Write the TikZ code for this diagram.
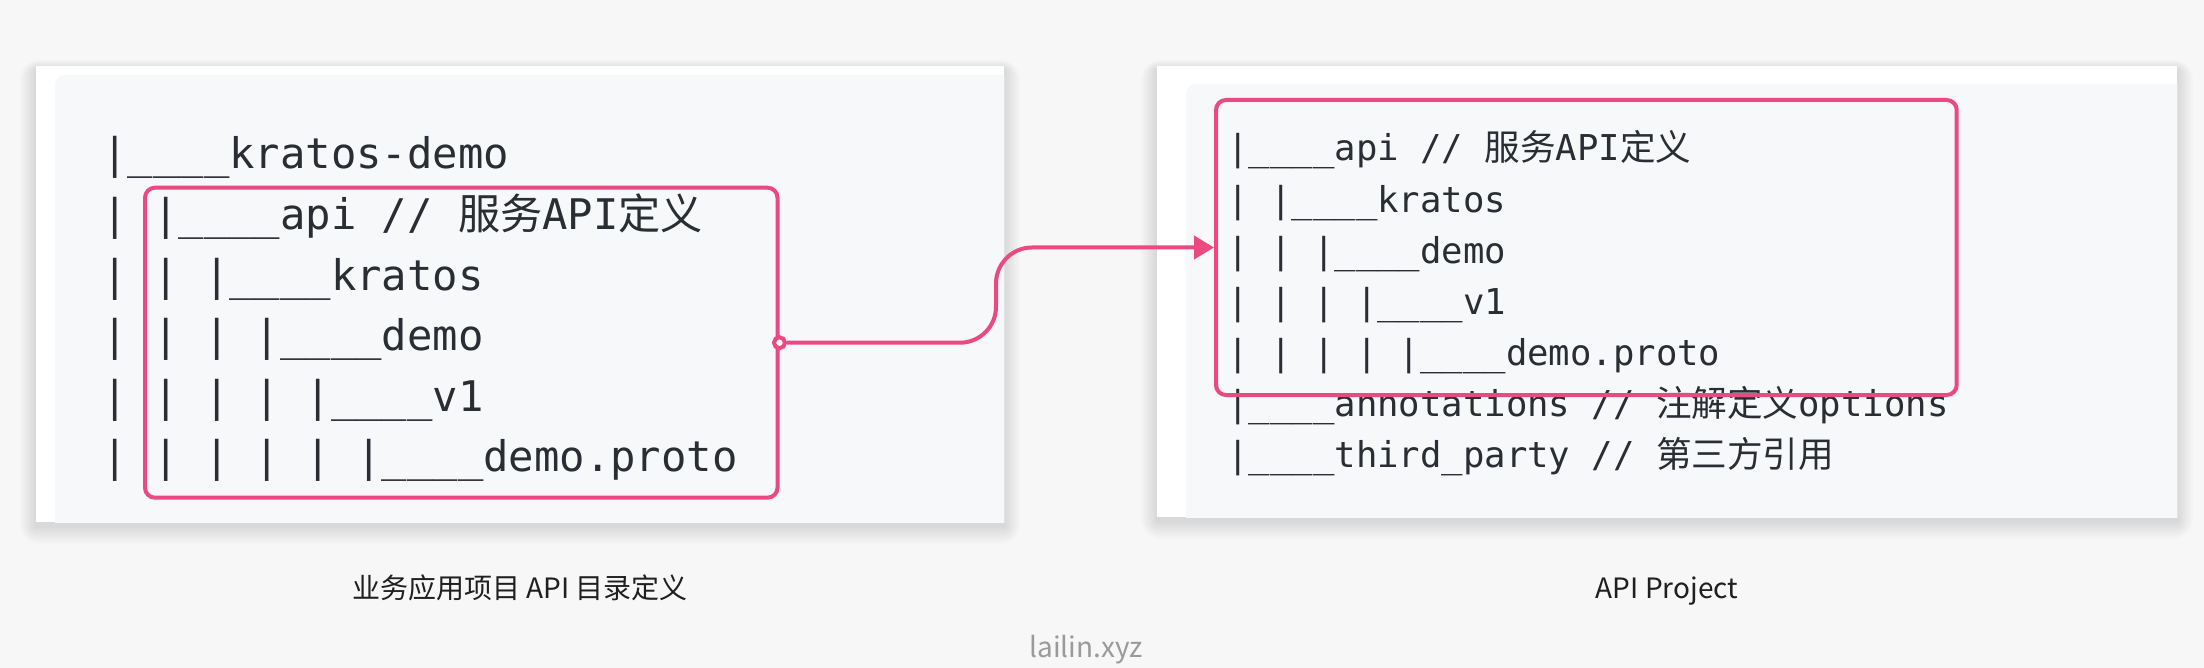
\documentclass[tikz,border=0pt]{standalone}
\usepackage{fontspec}
\setmainfont{Noto Sans CJK SC}
\setmonofont{DejaVu Sans Mono}
\newfontfamily\cjk{Noto Sans CJK SC}
\usetikzlibrary{positioning,fit,arrows.meta}

\definecolor{pagebg}{HTML}{F7F7F7}
\definecolor{codebg}{HTML}{F6F8FA}
\definecolor{codefg}{HTML}{2A2E33}
\definecolor{pinkline}{HTML}{EA4A80}
\definecolor{sitegray}{HTML}{9A9A9A}

\tikzstyle{card} = [draw=none, fill=white, inner sep=0]
\tikzstyle{codebox} = [draw=none, fill=codebg, rounded corners=5pt, inner sep=0]
\tikzstyle{hilite} = [draw=pinkline, line width=2pt, rounded corners=5pt, inner sep=0]
\tikzstyle{bigcode} = [inner sep=0, anchor=base west, text=codefg, font=\ttfamily\fontsize{21.1pt}{25pt}\selectfont]
\tikzstyle{smallcode} = [inner sep=0, anchor=base west, text=codefg, font=\ttfamily\fontsize{17.8pt}{21pt}\selectfont]
\tikzstyle{caption} = [inner sep=0, anchor=base, text=black!88, font=\fontsize{14pt}{16pt}\selectfont]
\tikzstyle{portdot} = [circle, draw=pinkline, fill=white, line width=2pt, minimum size=5.5pt, inner sep=0]
\tikzstyle{link} = [draw=pinkline, line width=2pt, rounded corners=18pt, -{Triangle[length=10pt, width=11.5pt]}]

% soft shadow under a card, from its corners
\newcommand{\softshadow}[2]{%
    \foreach \i in {1,...,10}
        \fill [black, opacity=0.013, rounded corners=\i pt]
            ([shift={(-\i*0.8pt,-\i*0.9pt-2pt)}]#1) rectangle ([shift={(\i*0.8pt,\i*0.5pt-2pt)}]#2);
}

\begin{document}
\begin{tikzpicture}[x=0.5pt, y=0.5pt]
    \fill [pagebg] (0,0) rectangle (2204,-668);

    % left card
    \coordinate (lnw) at (36,-66);
    \coordinate (lse) at (1004,-522);
    \softshadow{lnw |- lse}{lse |- lnw}
    \node [card, fit={(lnw) (lse)}] (lcard) {};
    \begin{scope}
        \clip (lcard.south west) rectangle (lcard.north east);
        \node [codebox, fit={(55,-75) (1020,-540)}] (lcode) {};
    \end{scope}
    \node [bigcode] (ltop) at (102,-169) {|\_\_\_\_kratos-demo};
    \node [bigcode, below=30.25pt of ltop.base west, anchor=base west] (lapi)
        {| |\_\_\_\_api // {\cjk 服务}API{\cjk 定义}};
    \node [bigcode, below=30.25pt of lapi.base west, anchor=base west] (lkratos)
        {| | |\_\_\_\_kratos};
    \node [bigcode, below=30.25pt of lkratos.base west, anchor=base west] (ldemo)
        {| | | |\_\_\_\_demo};
    \node [bigcode, below=30.25pt of ldemo.base west, anchor=base west] (lv1)
        {| | | | |\_\_\_\_v1};
    \node [bigcode, below=30.25pt of lv1.base west, anchor=base west] (lproto)
        {| | | | | |\_\_\_\_demo.proto};
    \node [hilite, fit={(145,-187.7) (777.5,-497.7)}] (srcbox) {};

    % right card
    \coordinate (rnw) at (1157,-66);
    \coordinate (rse) at (2177,-517);
    \softshadow{rnw |- rse}{rse |- rnw}
    \node [card, fit={(rnw) (rse)}] (rcard) {};
    \begin{scope}
        \clip (rcard.south west) rectangle (rcard.north east);
        \node [codebox, fit={(1186,-84) (2190,-530)}] (rcode) {};
    \end{scope}
    \node [smallcode] (rapi) at (1227,-161) {|\_\_\_\_api // {\cjk 服务}API{\cjk 定义}};
    \node [smallcode, below=25.55pt of rapi.base west, anchor=base west] (rkratos)
        {| |\_\_\_\_kratos};
    \node [smallcode, below=25.55pt of rkratos.base west, anchor=base west] (rdemo)
        {| | |\_\_\_\_demo};
    \node [smallcode, below=25.55pt of rdemo.base west, anchor=base west] (rv1)
        {| | | |\_\_\_\_v1};
    \node [smallcode, below=25.55pt of rv1.base west, anchor=base west] (rproto)
        {| | | | |\_\_\_\_demo.proto};
    \node [smallcode, below=25.55pt of rproto.base west, anchor=base west] (rannot)
        {|\_\_\_\_annotations // {\cjk 注解定义}options};
    \node [smallcode, below=25.55pt of rannot.base west, anchor=base west] (rthird)
        {|\_\_\_\_third\_party // {\cjk 第三方引用}};
    \node [hilite, fit={(1216,-100) (1956.7,-395)}] (dstbox) {};

    % connector
    \node [portdot] (out) at (srcbox.east) {};
    \coordinate (bend) at (996,-300);
    \draw [link] (out) -| (bend |- dstbox.west) -- (dstbox.west);

    % captions
    \node [caption, below=38pt of lcard.south, anchor=base] (lcap) {业务应用项目 API 目录定义};
    \node [caption] (rcap) at (rcard.south |- lcap.base) {API Project};
    \node [caption, text=sitegray] (site) at (1086,-657) {lailin.xyz};
\end{tikzpicture}
\end{document}
